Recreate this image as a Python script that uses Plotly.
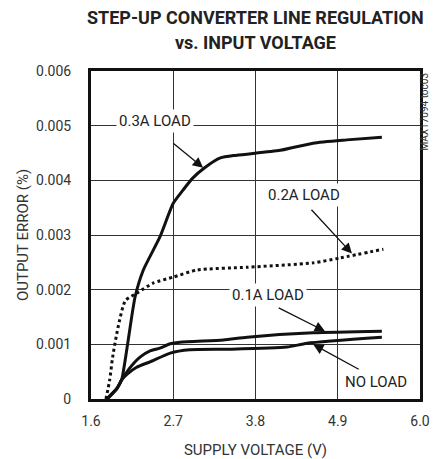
import plotly.graph_objects as go

FONT = "Roboto, Liberation Sans, Arial, sans-serif"

# Data
x_03 = [1.82, 1.95, 2.01, 2.05, 2.10, 2.19, 2.30, 2.52, 2.70, 2.83, 2.96, 3.12, 3.33, 3.55, 4.13, 4.57, 5.02, 5.49]
y_03 = [0, 0.0002, 0.00035, 0.00065, 0.0011, 0.00187, 0.00236, 0.00296, 0.00358, 0.00382, 0.00404, 0.00423,
        0.00441, 0.00446, 0.00455, 0.00468, 0.00474, 0.00479]

x_02 = [1.80, 1.85, 1.89, 1.96, 2.06, 2.22, 2.43, 2.70, 3.02, 3.69, 4.57, 4.93, 5.51]
y_02 = [0, 0.00035, 0.00077, 0.0013, 0.0018, 0.00194, 0.00212, 0.00223, 0.00236, 0.00241, 0.00249, 0.00258, 0.00274]

x_01 = [1.81, 1.95, 2.01, 2.12, 2.26, 2.39, 2.52, 2.66, 2.79, 3.37, 3.69, 4.57, 5.49]
y_01 = [0, 0.0002, 0.00035, 0.00057, 0.00077, 0.00088, 0.00093, 0.00101, 0.00104, 0.00108, 0.00113, 0.00121, 0.00124]

x_00 = [1.81, 1.95, 2.01, 2.08, 2.21, 2.39, 2.66, 2.92, 3.46, 4.22, 4.49, 5.49]
y_00 = [0, 0.0002, 0.00035, 0.00045, 0.00058, 0.00068, 0.00084, 0.0009, 0.00091, 0.00095, 0.00102, 0.00113]

x_ticks = [1.6, 2.7, 3.8, 4.9, 6.0]
x_ticktext = ["1.6", "2.7", "3.8", "4.9", "6.0"]
y_ticks = [0, 0.001, 0.002, 0.003, 0.004, 0.005, 0.006]
y_ticktext = ["0", "0.001", "0.002", "0.003", "0.004", "0.005", "0.006"]

fig = go.Figure()
line_style = dict(color="#111", width=3, shape="spline", smoothing=0.6)
fig.add_trace(go.Scatter(x=x_03, y=y_03, mode="lines", line=line_style))
fig.add_trace(go.Scatter(x=x_02, y=y_02, mode="lines", line=dict(line_style, dash="dot")))
fig.add_trace(go.Scatter(x=x_01, y=y_01, mode="lines", line=line_style))
fig.add_trace(go.Scatter(x=x_00, y=y_00, mode="lines", line=line_style))

# Labels (white background to break grid lines)
labels = [
    ("0.3A LOAD", 2.45, 0.00508),
    ("0.2A LOAD", 4.45, 0.00373),
    ("0.1A LOAD", 3.97, 0.00190),
    ("NO LOAD", 5.41, 0.00031),
]
for t, lx, ly in labels:
    fig.add_annotation(x=lx, y=ly, text=t, showarrow=False, bgcolor="white",
                       font=dict(family=FONT, size=15, color="#222"), borderpad=2)

# Arrows (tail -> head)
arrows = [
    (2.68, 0.00470, 3.10, 0.00423),
    (4.53, 0.00349, 5.09, 0.00266),
    (4.09, 0.00168, 4.73, 0.00124),
    (5.20, 0.00053, 4.57, 0.00100),
]
for tx, ty, hx, hy in arrows:
    fig.add_annotation(x=hx, y=hy, ax=tx, ay=ty, axref="x", ayref="y", xref="x", yref="y",
                       text="", showarrow=True, arrowhead=2, arrowsize=1.6, arrowwidth=1.3,
                       arrowcolor="#111")

# Title lines
fig.add_annotation(text="<b>STEP-UP CONVERTER LINE REGULATION</b>", x=(255 - 91) / 329, y=(399 - 17) / 328,
                   xref="paper", yref="paper", showarrow=False, yanchor="middle",
                   font=dict(family=FONT, size=18, color="#222"))
fig.add_annotation(text="<b>vs. INPUT VOLTAGE</b>", x=(255 - 91) / 329, y=(399 - 42) / 328,
                   xref="paper", yref="paper", showarrow=False, yanchor="middle",
                   font=dict(family=FONT, size=18, color="#222"))
fig.add_annotation(text="MAX17094 toc03", x=(432 - 91) / 329, y=1.003, xref="paper", yref="paper",
                   showarrow=False, textangle=-90, yanchor="top",
                   font=dict(family=FONT, size=10, color="#333"))

axis_common = dict(showline=True, linewidth=3, linecolor="#111", mirror=True, automargin=False,
                   showgrid=True, gridcolor="#333", gridwidth=1, zeroline=False,
                   ticks="", tickfont=dict(family=FONT, size=14, color="#333"))
fig.update_xaxes(range=[1.6, 6.0], tickvals=x_ticks, ticktext=x_ticktext,
                 title=dict(text="SUPPLY VOLTAGE (V)", font=dict(family=FONT, size=15, color="#333"), standoff=22),
                 ticklabelstandoff=7, **axis_common)
fig.update_yaxes(range=[0, 0.006], tickvals=y_ticks, ticktext=y_ticktext,
                 title=dict(text="OUTPUT ERROR (%)", font=dict(family=FONT, size=15, color="#333"), standoff=4),
                 ticklabelstandoff=14, **axis_common)

fig.update_layout(width=440, height=459, margin=dict(l=91, r=20, t=71, b=60),
                  plot_bgcolor="white", paper_bgcolor="white", showlegend=False)

fig.write_html("out.html", config={"displayModeBar": False},
               post_script="document.body.style.margin='0';document.body.style.overflow='hidden';")
